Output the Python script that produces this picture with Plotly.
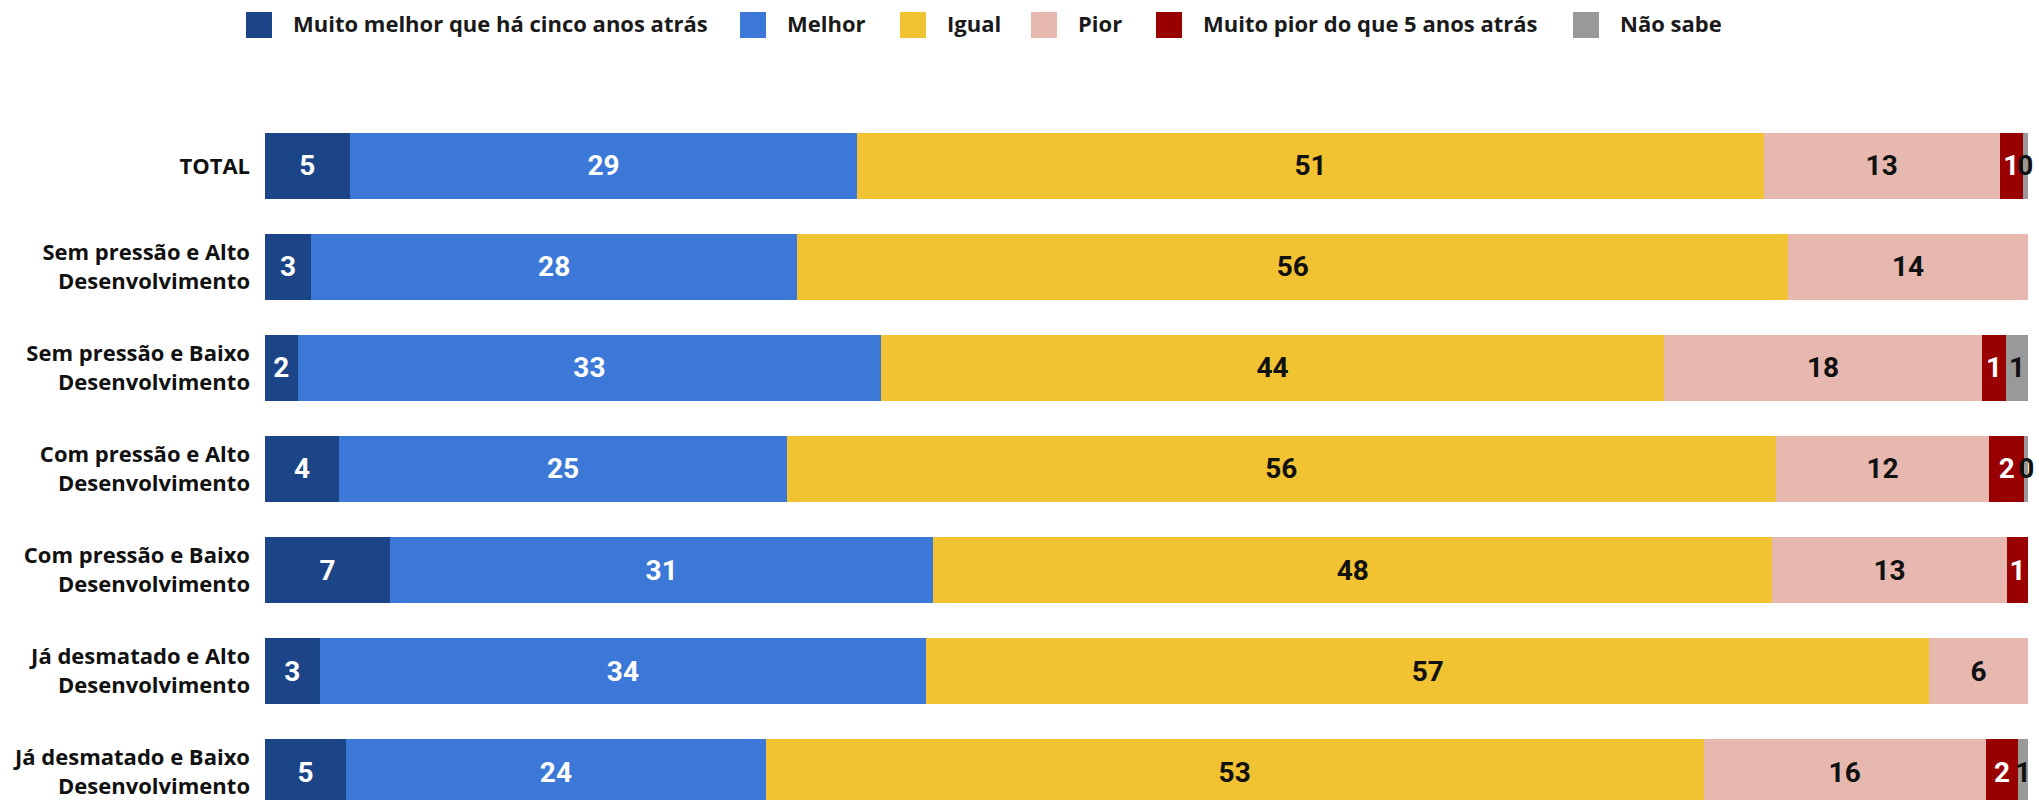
import plotly.graph_objects as go

categorias = [
    "TOTAL",
    "Sem pressão e Alto<br>Desenvolvimento",
    "Sem pressão e Baixo<br>Desenvolvimento",
    "Com pressão e Alto<br>Desenvolvimento",
    "Com pressão e Baixo<br>Desenvolvimento",
    "Já desmatado e Alto<br>Desenvolvimento",
    "Já desmatado e Baixo<br>Desenvolvimento",
]

muito_melhor = [4.8, 2.6, 1.85, 4.2, 7.1, 3.1, 4.6]
melhor = [28.8, 27.6, 33.1, 25.4, 30.8, 34.4, 23.8]
igual = [51.4, 56.2, 44.4, 56.1, 47.6, 56.9, 53.2]
pior = [13.4, 13.6, 18.05, 12.1, 13.3, 5.6, 16.0]
muito_pior = [1.3, 0, 1.35, 2.0, 1.2, 0, 1.85]
nao_sabe = [0.3, 0, 1.25, 0.2, 0, 0, 0.55]

series = [
    ("Muito melhor que há cinco anos atrás", muito_melhor, "#1c4587", "white"),
    ("Melhor", melhor, "#3c78d8", "white"),
    ("Igual", igual, "#f1c232", "#111111"),
    ("Pior", pior, "#e6b8af", "#111111"),
    ("Muito pior do que 5 anos atrás", muito_pior, "#990000", "white"),
    ("Não sabe", nao_sabe, "#999999", "#111111"),
]

# figure geometry (pixels) used for the hand-made legend
W, H = 2039, 800
M_L, M_R, M_T, M_B = 265, 11, 80, 0
plot_w = W - M_L - M_R
plot_h = H - M_T - M_B
legend_x_px = [246, 740, 900, 1031, 1156, 1573]


def px_x(px):
    return (px - M_L) / plot_w


def px_y(py):
    return (H - M_B - py) / plot_h


fig = go.Figure()
for nome, valores, cor, cor_texto in series:
    fig.add_trace(go.Bar(
        y=categorias, x=valores, name=nome, orientation="h",
        marker=dict(color=cor, line=dict(width=0)),
        text=[f"{v:.0f}" if v > 0 else "" for v in valores],
        textposition="inside", insidetextanchor="middle", textangle=0,
        constraintext="none", cliponaxis=False,
        textfont=dict(family="Roboto", size=28, color=cor_texto, weight="bold"),
        showlegend=False,
    ))

# legend: swatch + label for each series
for (nome, _, cor, _), x0 in zip(series, legend_x_px):
    fig.add_shape(
        type="rect", xref="paper", yref="paper",
        x0=px_x(x0), x1=px_x(x0 + 26), y0=px_y(38), y1=px_y(12),
        fillcolor=cor, line=dict(width=0),
    )
    fig.add_annotation(
        xref="paper", yref="paper", x=px_x(x0 + 45), y=px_y(23),
        xanchor="left", yanchor="middle", showarrow=False, text=nome,
        font=dict(family="Open Sans", size=22, color="#1a1a1a", weight="bold"),
    )

fig.update_layout(
    width=W, height=H,
    barmode="stack", bargap=0.347,
    margin=dict(l=M_L, r=M_R, t=M_T, b=M_B, autoexpand=False),
    paper_bgcolor="white", plot_bgcolor="white",
    xaxis=dict(range=[0, 100], visible=False, fixedrange=True, automargin=False),
    yaxis=dict(
        categoryorder="array", categoryarray=categorias,
        range=[6.277, -0.851], showgrid=False, zeroline=False,
        automargin=False, ticklabelstandoff=14,
        tickfont=dict(family="Open Sans", size=22, color="#111111", weight="bold"),
    ),
)

# drop the default 8px body margin so the figure fills the window exactly
fig.write_html(
    "out.html",
    config={"displayModeBar": False},
    post_script="document.body.style.margin='0';document.body.style.overflow='hidden';",
)
